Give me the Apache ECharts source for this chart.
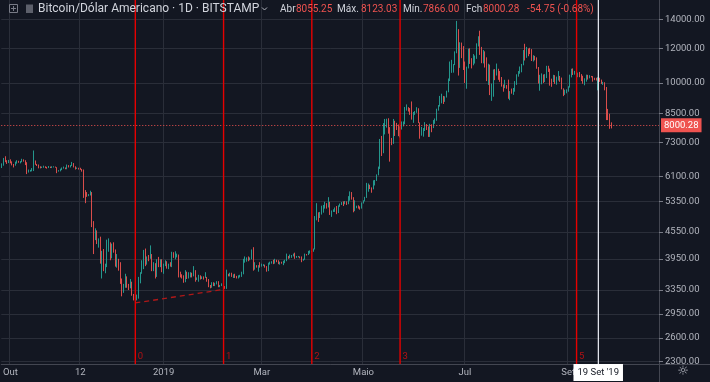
<!DOCTYPE html>
<html><head><meta charset="utf-8">
<script src="https://cdn.jsdelivr.net/npm/echarts@6/dist/echarts.min.js"></script>
<style>html,body{margin:0;padding:0;background:#131722}#c{width:710px;height:382px}</style>
</head><body><div id="c"></div><script>
// ---- data: daily candles [open, close, low, high] ----
const sep2018 = [[6440,6480,6380,6540],[6480,6690,6460,6730],[6690,6640,6580,6790],[6640,6590,6520,6650],[6590,6620,6550,6660]];
const oct2018 = [[6620,6580,6540,6680],[6580,6500,6470,6610],[6500,6470,6400,6520],[6470,6560,6460,6600],[6560,6620,6530,6650],[6620,6570,6560,6630],[6570,6600,6540,6620],[6600,6670,6580,6700],[6670,6640,6600,6680],[6640,6570,6480,6650],[6570,6250,6180,6580],[6250,6270,6230,6330],[6270,6290,6260,6320],[6290,6300,6270,6380],[6300,6620,6280,7000],[6620,6500,6490,6640],[6500,6470,6450,6520],[6470,6410,6370,6500],[6410,6390,6370,6440],[6390,6410,6380,6430],[6410,6420,6390,6460],[6420,6400,6380,6440],[6400,6390,6360,6420],[6390,6420,6380,6450],[6420,6400,6380,6430],[6400,6410,6380,6440],[6410,6420,6400,6440],[6420,6400,6390,6430],[6400,6280,6210,6410],[6280,6290,6260,6310],[6290,6330,6270,6360]];
const nov2018 = [[6330,6370,6310,6400],[6370,6390,6360,6430],[6390,6360,6340,6400],[6360,6470,6340,6500],[6470,6420,6400,6480],[6420,6460,6400,6480],[6460,6540,6450,6590],[6540,6430,6400,6550],[6430,6360,6330,6440],[6360,6380,6350,6400],[6380,6370,6330,6390],[6370,6340,6320,6390],[6340,6310,6260,6350],[6310,5650,5450,6330],[5650,5600,5300,5680],[5600,5540,5480,5620],[5540,5540,5500,5560],[5540,5600,5520,5660],[5600,4750,4670,5620],[4750,4360,4050,4820],[4360,4540,4360,4640],[4540,4290,4270,4590],[4290,4320,4190,4400],[4320,3930,3850,4440],[3930,4000,3560,4120],[4000,3760,3700,4160],[3760,3800,3660,3850],[3800,4240,3780,4370],[4240,4250,4100,4400],[4250,3980,3920,4310]];
const dec2018 = [[3980,4200,3960,4280],[4200,4140,4080,4310],[4140,3840,3790,4150],[3840,3940,3770,4050],[3940,3750,3710,3950],[3750,3500,3460,3880],[3500,3400,3240,3560],[3400,3410,3300,3460],[3410,3540,3390,3650],[3540,3440,3390,3600],[3440,3390,3350,3460],[3390,3490,3380,3550],[3490,3260,3250,3500],[3260,3210,3170,3280],[3210,3180,3125,3240],[3180,3210,3170,3270],[3210,3510,3200,3590],[3510,3660,3470,3680],[3660,3740,3650,3920],[3740,4100,3740,4140],[4100,3860,3800,4170],[3860,3990,3830,4000],[3990,3950,3900,4030],[3950,4050,3950,4240],[4050,3780,3700,4050],[3780,3830,3700,3880],[3830,3600,3560,3860],[3600,3880,3590,3940],[3880,3800,3780,3990],[3800,3900,3780,3940],[3900,3720,3680,3940]];
const jan2019 = [[3720,3830,3650,3850],[3830,3900,3800,3920],[3900,3790,3750,3900],[3790,3820,3740,3850],[3820,3800,3790,3880],[3800,4050,3780,4100],[4050,3990,3970,4090],[3990,3990,3940,4110],[3990,4010,3980,4060],[4010,3640,3580,4040],[3640,3620,3580,3690],[3620,3600,3560,3640],[3600,3500,3480,3620],[3500,3660,3490,3720],[3660,3570,3550,3690],[3570,3620,3560,3680],[3620,3660,3580,3680],[3660,3610,3580,3670],[3610,3700,3600,3800],[3700,3540,3500,3720],[3540,3560,3530,3580],[3560,3590,3500,3630],[3590,3560,3540,3620],[3560,3590,3550,3600],[3590,3580,3540,3600],[3580,3580,3570,3680],[3580,3540,3500,3590],[3540,3430,3400,3550],[3430,3400,3380,3440],[3400,3460,3390,3490],[3460,3430,3420,3490]];
const feb2019 = [[3430,3460,3420,3480],[3460,3500,3450,3510],[3500,3420,3400,3510],[3420,3420,3400,3440],[3420,3450,3420,3470],[3450,3400,3380,3460],[3400,3380,3370,3420],[3380,3630,3370,3730],[3630,3620,3600,3650],[3620,3660,3600,3670],[3660,3600,3590,3670],[3600,3610,3570,3640],[3610,3590,3570,3650],[3590,3570,3560,3610],[3570,3580,3560,3620],[3580,3600,3580,3630],[3600,3660,3590,3690],[3660,3890,3640,3950],[3890,3920,3870,4000],[3920,3970,3890,3980],[3970,3920,3900,4000],[3920,3960,3920,3980],[3960,4110,3940,4150],[4110,3740,3710,4200],[3740,3820,3730,3880],[3820,3790,3770,3820],[3790,3800,3690,3820],[3800,3790,3770,3880]];
const mar2019 = [[3790,3820,3790,3850],[3820,3820,3800,3840],[3820,3790,3770,3830],[3790,3710,3690,3800],[3710,3850,3700,3870],[3850,3860,3830,3890],[3860,3870,3850,3900],[3870,3860,3840,3930],[3860,3930,3850,3950],[3930,3910,3880,3930],[3910,3860,3840,3920],[3860,3880,3830,3890],[3880,3870,3850,3890],[3870,3870,3820,3910],[3870,3910,3860,3930],[3910,4000,3900,4060],[4000,3980,3950,4010],[3980,3980,3960,4040],[3980,4020,3970,4030],[4020,4050,4000,4060],[4050,3980,3950,4080],[3980,3990,3970,4010],[3990,4000,3980,4010],[4000,3990,3960,4000],[3990,3920,3880,4000],[3920,3940,3910,3950],[3940,4050,3930,4060],[4050,4040,4020,4050],[4040,4100,4030,4120],[4100,4110,4060,4130],[4110,4110,4090,4120]];
const apr2019 = [[4110,4150,4100,4170],[4150,4890,4150,4950],[4890,4970,4840,5300],[4970,4910,4800,5050],[4910,5030,4900,5060],[5030,5050,4990,5230],[5050,5200,5040,5250],[5200,5280,5150,5340],[5280,5200,5150,5300],[5200,5330,5180,5470],[5330,5040,4980,5340],[5040,5090,4930,5100],[5090,5100,5060,5130],[5100,5170,5060,5180],[5170,5040,5000,5220],[5040,5220,5030,5240],[5220,5250,5200,5290],[5250,5300,5250,5330],[5300,5280,5220,5350],[5280,5330,5270,5360],[5330,5290,5250,5350],[5290,5390,5270,5500],[5390,5550,5370,5640],[5550,5440,5400,5620],[5440,5120,5050,5470],[5120,5200,5080,5380],[5200,5200,5160,5230],[5200,5180,5150,5240],[5180,5160,5120,5210],[5160,5300,5150,5320]];
const may2019 = [[5300,5360,5290,5380],[5360,5460,5350,5480],[5460,5790,5450,5900],[5790,5830,5630,5880],[5830,5750,5710,5840],[5750,5700,5600,5760],[5700,5890,5700,5980],[5890,5960,5820,5990],[5960,6150,5960,6170],[6150,6350,6140,6430],[6350,7230,6350,7440],[7230,6980,6800,7560],[6980,7810,6900,8090],[7810,7990,7620,8270],[7990,8190,7900,8280],[8190,7870,7650,8300],[7870,7350,6600,7920],[7350,7260,7200,7480],[7260,8190,7250,8270],[8190,7970,7560,8190],[7970,7950,7800,8100],[7950,7620,7550,8030],[7620,7880,7500,7950],[7880,7990,7820,8160],[7990,8060,7950,8160],[8060,8720,8040,8810],[8720,8780,8640,8930],[8780,8730,8600,8800],[8730,8660,8450,8760],[8660,8270,8240,9070],[8270,8550,8100,8580]];
const jun2019 = [[8550,8560,8450,8620],[8560,8740,8540,8800],[8740,8110,8090,8750],[8110,7660,7450,8120],[7660,7790,7570,7930],[7790,7800,7530,7880],[7800,8000,7760,8130],[8000,7920,7800,8050],[7920,7640,7520,7950],[7640,8020,7520,8060],[8020,7910,7710,8040],[7910,8160,7880,8220],[8160,8230,8060,8290],[8230,8690,8190,8730],[8690,8840,8640,8900],[8840,8980,8830,9340],[8980,9330,8980,9450],[9330,9080,8950,9340],[9080,9280,9050,9320],[9280,9530,9260,9600],[9530,10200,9520,10240],[10200,10690,10100,11200],[10690,10860,10550,11300],[10860,11020,10560,11050],[11020,11750,10990,11820],[11750,12920,11700,13880],[12920,11160,10400,13290],[11160,12370,10830,12400],[12370,11890,11400,12380],[11890,10820,10710,12150]];
const jul2019 = [[10820,10580,10000,11200],[10580,10800,9700,10900],[10800,11960,10800,11990],[11960,11160,11060,12010],[11160,10980,10800,11400],[10980,11230,10980,11650],[11230,11480,11080,11560],[11480,12300,11360,12330],[12300,12580,12130,12800],[12580,12100,11600,13180],[12100,11340,11100,12100],[11340,11800,11090,11900],[11800,11380,10850,11820],[11380,10200,10100,11450],[10200,10850,9900,11070],[10850,9430,9380,11020],[9430,9680,9100,9970],[9680,10630,9300,10740],[10630,10530,10150,10760],[10530,10760,10400,11080],[10760,10590,10170,10780],[10590,10320,10060,10650],[10320,9850,9810,10320],[9850,9770,9550,9920],[9770,9880,9730,10170],[9880,9870,9700,9890],[9870,9470,9200,10180],[9470,9530,9130,9580],[9530,9500,9450,9710],[9500,9580,9390,9740],[9580,10090,9550,10100]];
const aug2019 = [[10090,10400,9900,10470],[10400,10520,10340,10650],[10520,10820,10500,10910],[10820,10980,10580,11060],[10980,11800,10980,11900],[11800,11460,11260,12300],[11460,11960,11420,12100],[11960,11950,11520,12000],[11950,11840,11650,12040],[11840,11280,11230,11960],[11280,11540,11200,11580],[11540,11390,11270,11540],[11390,10870,10780,11450],[10870,10030,9970,10880],[10030,10310,9600,10440],[10310,10360,9930,10520],[10360,10230,10000,10460],[10230,10340,10050,10480],[10340,10920,10260,10950],[10920,10760,10600,10950],[10760,10130,9860,10790],[10130,10120,9800,10230],[10120,10400,10050,10440],[10400,10140,9950,10420],[10140,10140,9910,10340],[10140,10370,10130,10650],[10370,10180,10060,10380],[10180,9720,9670,10290],[9720,9500,9330,9720],[9500,9580,9390,9650],[9580,9600,9470,9670]];
const sep2019 = [[9600,9760,9550,9830],[9760,10380,9760,10450],[10380,10620,10300,10780],[10620,10580,10430,10800],[10580,10580,10450,10660],[10580,10320,10150,10900],[10320,10490,10310,10560],[10490,10410,10310,10600],[10410,10330,10100,10480],[10330,10100,9960,10390],[10100,10160,9880,10250],[10160,10400,10070,10450],[10400,10360,10180,10440],[10360,10360,10250,10420],[10360,10310,10300,10380],[10310,10270,10070,10370],[10270,10200,10150,10280],[10200,10170,10130,10280],[10170,10270,9620,10310],[10270,10180,10060,10280],[10180,9990,9950,10180],[9990,10030,9900,10060],[10030,9690,9620,10040],[9690,8540,8220,9790],[8540,8430,8220,8720],[8430,8055.03,7850,8500],[8055.25,8000.28,7866.00,8123.03]];

// first category date and number of daily slots on the time axis (incl. empty right margin)
const firstDay = [2018, 8, 26];
const daySlots = 395;
// time-axis tick labels
const xTicks = [['2018-10-01','Out'],['2018-11-12','12'],['2019-01-01','2019'],['2019-03-01','Mar'],['2019-05-01','Maio'],['2019-07-01','Jul'],['2019-09-01','Set']];
// price-axis tick values
const yTicks = [14000,12000,10000,8500,7300,6100,5350,4550,3950,3350,2950,2600,2300];
const yRange = [2266, 15502];
// Fibonacci time zones
const fibLines = [['2018-12-15','0'],['2019-02-06','1'],['2019-03-31','2'],['2019-05-23','3'],['2019-09-06','5']];
const fibLabelLevel = 2350;
// trend line between lows
const trendLine = [['2018-12-15',3128],['2019-02-06',3360]];
const crosshairDay = ['2019-09-19', "19 Set '19"];

// ---- build ----
const candles = [].concat(sep2018, oct2018, nov2018, dec2018, jan2019, feb2019, mar2019, apr2019, may2019, jun2019, jul2019, aug2019, sep2019);
const categories = [];
for (let i = 0; i < daySlots; i++) {
  const d = new Date(Date.UTC(firstDay[0], firstDay[1], firstDay[2] + i));
  categories.push(d.toISOString().slice(0, 10));
}
const tickMap = Object.fromEntries(xTicks);
const last = candles[candles.length - 1];
const prevClose = candles[candles.length - 2][1];
const chg = last[1] - prevClose;
const pct = chg / prevClose * 100;

const UP = '#26a69a', DOWN = '#ef5350', GRID = '#2a2e39', AX = '#b2b5be', SEP = '#434651', FIB = '#e60000';
const FF = 'Roboto, "Noto Sans", sans-serif';

const chart = echarts.init(document.getElementById('c'), null, {renderer: 'canvas'});

function txt(x, text, color, size) {
  return {type: 'text', x: x, y: 9, z: 100, style: {text: text, fill: color, fontSize: size, fontFamily: FF, verticalAlign: 'middle', align: 'left'}};
}

// each Fibonacci time zone as a vertical line series spanning the axis range
const fibSeries = fibLines.map(f => ({
  type: 'line', name: 'fib' + f[1], data: [[f[0], yRange[0]], [f[0], yRange[1]]],
  symbol: 'none', silent: true, z: 4,
  lineStyle: {color: FIB, width: 1.4, type: 'solid'}
}));

const option = {
  backgroundColor: '#131722',
  animation: false,
  grid: {left: 0, right: 51, top: 0, bottom: 18},
  xAxis: {
    type: 'category', data: categories, boundaryGap: true,
    axisLine: {show: true, lineStyle: {color: SEP}},
    axisTick: {show: false},
    axisLabel: {interval: (i, v) => v in tickMap, formatter: v => tickMap[v] || '', color: AX, fontSize: 9.5, fontFamily: FF, margin: 4},
    splitLine: {show: true, interval: (i, v) => v in tickMap, lineStyle: {color: GRID, width: 1}}
  },
  yAxis: {
    type: 'log', logBase: 10, min: yRange[0], max: yRange[1], position: 'right',
    axisLine: {show: true, lineStyle: {color: SEP}},
    axisTick: {show: true, length: 4, customValues: yTicks, lineStyle: {color: '#787b86'}},
    axisLabel: {customValues: yTicks, formatter: v => Number(v).toFixed(2), color: AX, fontSize: 9.5, fontFamily: FF, margin: 6},
    splitLine: {show: true, lineStyle: {color: GRID, width: 1}}
  },
  series: [
    {
      type: 'candlestick', name: 'BTCUSD', data: candles, z: 3,
      barWidth: 1.1,
      itemStyle: {color: UP, color0: DOWN, borderColor: UP, borderColor0: DOWN, borderWidth: 0.9},
      markLine: {
        silent: true, symbol: ['none', 'none'], animation: false, z: 4,
        data: [
          [{coord: trendLine[0], lineStyle: {color: '#b01818', width: 1.3, type: [5, 4]}, label: {show: false}}, {coord: trendLine[1]}],
          {yAxis: last[1], lineStyle: {color: DOWN, width: 1, type: [1, 2]},
           label: {show: true, position: 'end', distance: 2, formatter: last[1].toFixed(2), color: '#ffffff', backgroundColor: DOWN, padding: [2, 3, 2, 3], fontSize: 9.5, fontFamily: FF}}
        ]
      }
    },
    ...fibSeries,
    {
      type: 'scatter', name: 'fibLabels', data: fibLines.map(f => [f[0], fibLabelLevel, f[1]]), z: 5,
      symbolSize: 1, itemStyle: {color: 'rgba(0,0,0,0)'}, silent: true,
      label: {show: true, position: 'right', distance: 2, formatter: p => p.data[2], color: '#d81010', fontSize: 9.5, fontFamily: FF}
    },
    {
      type: 'line', name: 'cross', data: [[crosshairDay[0], yRange[0]], [crosshairDay[0], yRange[1]]],
      symbol: 'none', silent: true, z: 6,
      lineStyle: {color: '#e0e3eb', width: 1, type: 'solid'},
      markLine: {
        silent: true, symbol: ['none', 'none'], animation: false,
        lineStyle: {color: '#e0e3eb', width: 1, type: 'solid', opacity: 1},
        label: {show: true, position: 'start', distance: 0, formatter: crosshairDay[1], color: '#131722', backgroundColor: '#ffffff', padding: [4, 4, 3, 4], fontSize: 9.5, fontFamily: FF},
        data: [{xAxis: crosshairDay[0]}]
      }
    }
  ],
  graphic: [
    {type: 'rect', z: 100, shape: {x: 9.5, y: 4.5, width: 8, height: 8}, style: {fill: 'none', stroke: '#787b86', lineWidth: 1}},
    {type: 'line', z: 100, shape: {x1: 13.5, y1: 6, x2: 13.5, y2: 11}, style: {stroke: '#787b86', lineWidth: 1}},
    {type: 'line', z: 100, shape: {x1: 11, y1: 8.5, x2: 16, y2: 8.5}, style: {stroke: '#787b86', lineWidth: 1}},
    {type: 'polygon', z: 100, shape: {points: [[26, 4.5], [33, 4.5], [33, 13], [26, 13]]}, style: {fill: '#5d606b'}},
    txt(38, 'Bitcoin/Dólar Americano · 1D · BITSTAMP', '#d1d4dc', 12),
    {type: 'polyline', z: 100, shape: {points: [[262, 7.5], [264.5, 10], [267, 7.5]]}, style: {stroke: '#b2b5be', lineWidth: 1, fill: 'none'}},
    txt(280, 'Abr', '#d1d4dc', 10), txt(296, last[0].toFixed(2), DOWN, 10),
    txt(337, 'Máx.', '#d1d4dc', 10), txt(361, last[3].toFixed(2), DOWN, 10),
    txt(403, 'Mín.', '#d1d4dc', 10), txt(423, last[2].toFixed(2), DOWN, 10),
    txt(466, 'Fch', '#d1d4dc', 10), txt(483, last[1].toFixed(2), DOWN, 10),
    txt(527, chg.toFixed(2) + ' (' + pct.toFixed(2) + '%)', DOWN, 10),
    {type: 'line', z: 100, shape: {x1: 659.5, y1: 364, x2: 659.5, y2: 382}, style: {stroke: SEP, lineWidth: 1}},
    {type: 'line', z: 100, shape: {x1: 659, y1: 364.5, x2: 710, y2: 364.5}, style: {stroke: SEP, lineWidth: 1}},
    {type: 'text', z: 100, x: 683, y: 372, style: {text: '☼', fill: '#b2b5be', fontSize: 13, fontFamily: 'DejaVu Sans', align: 'center', verticalAlign: 'middle'}}
  ]
};
chart.setOption(option);
</script></body></html>
